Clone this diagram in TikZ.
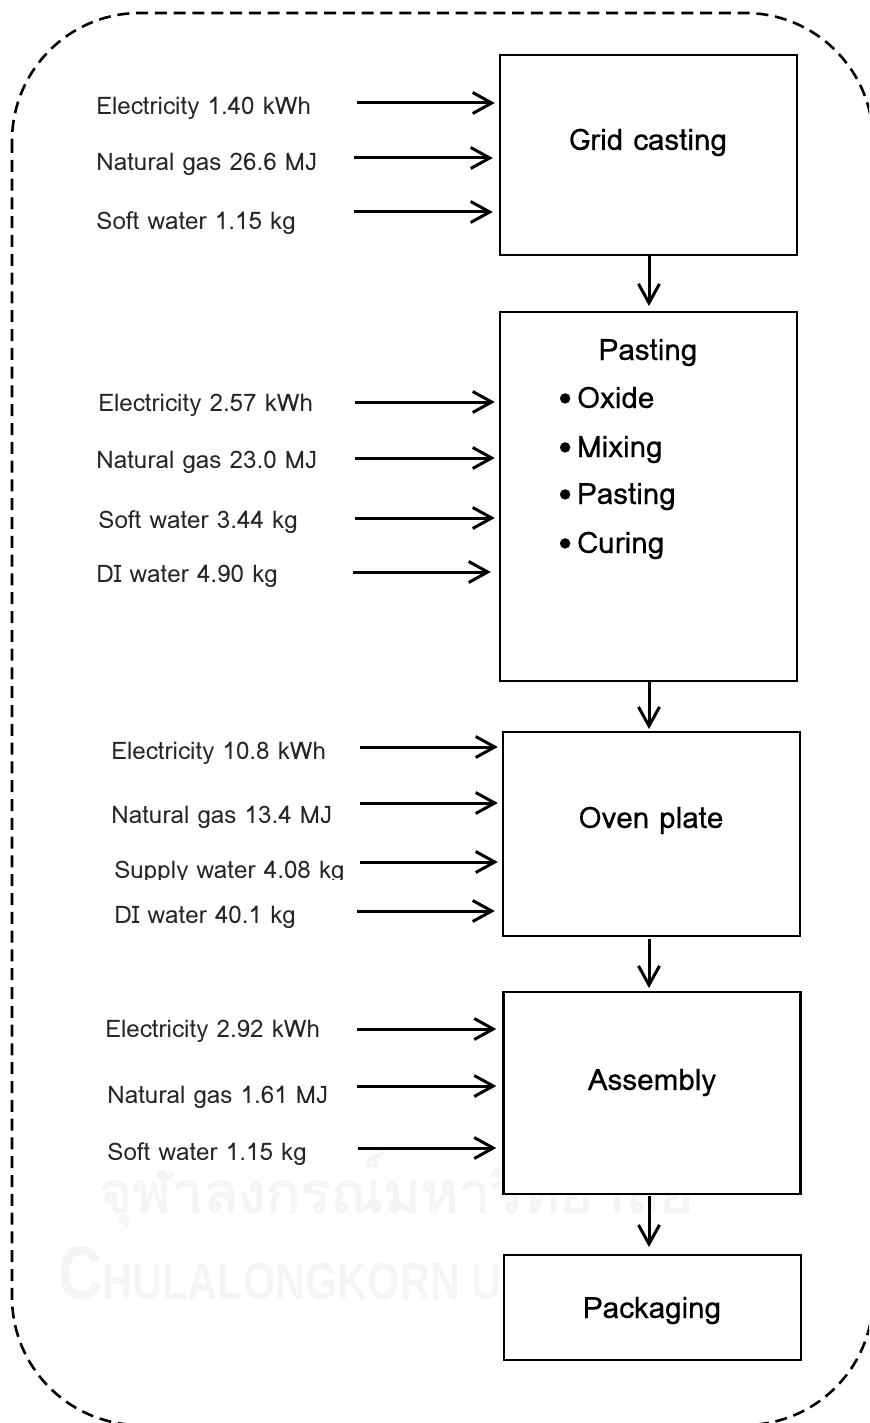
\documentclass[tikz,border=0pt]{standalone}
\usepackage{fontspec}
\setmainfont{Loma}
\newfontfamily\stagefont[FakeBold=0.35]{Loma}
\newfontfamily\thaimark[FakeBold=2.5]{Loma}
\newfontfamily\unimark{Liberation Sans}
\usetikzlibrary{arrows.meta}
\tikzset{
	stage/.style={draw, fill=white, line width=1.2pt, inner sep=0pt, minimum width=148.5pt},
	flow/.style={line width=1.5pt, -{Straight Barb[length=9.5pt, width=10.5pt]}},
	input/.style={anchor=base west, inner sep=0pt, text=black!85, font=\fontsize{12.1}{14}\selectfont},
	title/.style={anchor=base, inner sep=0pt, font=\stagefont\fontsize{14.8}{17}\selectfont},
	item/.style={anchor=base west, inner sep=0pt, font=\stagefont\fontsize{14.8}{17}\selectfont},
	faint/.style={inner sep=0pt, text=black!4, transform shape}
}
\begin{document}
\begin{tikzpicture}[x=0.5pt, y=-0.5pt]
	\path[use as bounding box, clip] (0,0) rectangle (869,1423);
	% watermark
	\node[faint, font=\thaimark\fontsize{28.4}{33}\selectfont] (thai) at (396,1190) {จุฬาลงกรณ์มหาวิทยาลัย};
	\node[faint, anchor=base west, xscale=0.8, font=\unimark\bfseries\fontsize{38}{40}\selectfont] (uni) at (58,1299) {C\fontsize{26}{28}\selectfont HULALONGKORN U};
	% boundary
	\draw[line width=1.3pt, dash pattern=on 6pt off 3.4pt, rounded corners=64pt] (12,13) rectangle (873,1425);
	% stages
	\node[stage, minimum height=100pt] (grid) at (648.5,155) {};
	\node[stage, minimum height=184.5pt] (paste) at (648.5,496.5) {};
	\node[stage, minimum height=102pt] (oven) at (651.5,834) {};
	\node[stage, minimum height=101pt] (assembly) at (652,1093) {};
	\node[stage, minimum height=52.5pt] (pack) at (652.5,1307.5) {};
	\node[title] (gridtext) at (648,150) {Grid casting};
	\node[title] (pastetext) at (648,360) {Pasting};
	\node[item] (oxide) at (558,408) {•\kern-2.5pt\ Oxide};
	\node[item] (mixing) at (558,457) {•\kern-2.5pt\ Mixing};
	\node[item] (pasting) at (558,504) {•\kern-2.5pt\ Pasting};
	\node[item] (curing) at (558,553) {•\kern-2.5pt\ Curing};
	\node[title] (oventext) at (651,828) {Oven plate};
	\node[title] (assemblytext) at (652,1090) {Assembly};
	\node[title] (packtext) at (652,1318) {Packaging};
	% stage to stage
	\draw[flow] (grid.south -| 649,0) -- (649,306) coordinate (c1);
	\draw[flow] (paste.south -| 649,0) -- (649,729) coordinate (c2);
	\draw[flow] (649,939) coordinate (c3) -- (649,988) coordinate (c4);
	\draw[flow] (649,1196) coordinate (c5) -- (649,1247) coordinate (c6);
	% grid casting inputs
	\node[input] (g1) at (96,115) {Electricity 1.40 kWh};
	\node[input] (g2) at (96,171) {Natural gas 26.6 MJ};
	\node[input] (g3) at (96,230) {Soft water 1.15 kg};
	\coordinate (gs1) at (357,103);
	\coordinate (gs2) at (354,158);
	\coordinate (gs3) at (354,212);
	\draw[flow, shorten >=2pt] (gs1) -- (gs1 -| grid.west);
	\draw[flow, shorten >=3pt] (gs2) -- (gs2 -| grid.west);
	\draw[flow, shorten >=3pt] (gs3) -- (gs3 -| grid.west);
	% pasting inputs
	\node[input] (p1) at (98,411) {Electricity 2.57 kWh};
	\node[input] (p2) at (96,468) {Natural gas 23.0 MJ};
	\node[input] (p3) at (98,528) {Soft water 3.44 kg};
	\node[input] (p4) at (96,582) {DI water 4.90 kg};
	\coordinate (ps1) at (355,402);
	\coordinate (ps2) at (355,458);
	\coordinate (ps3) at (355,518);
	\coordinate (ps4) at (353,572);
	\draw[flow, shorten >=2pt] (ps1) -- (ps1 -| paste.west);
	\draw[flow, shorten >=2pt] (ps2) -- (ps2 -| paste.west);
	\draw[flow, shorten >=2pt] (ps3) -- (ps3 -| paste.west);
	\draw[flow, shorten >=4pt] (ps4) -- (ps4 -| paste.west);
	% oven inputs
	\node[input] (o1) at (111,759) {Electricity 10.8 kWh};
	\node[input] (o2) at (111,823) {Natural gas 13.4 MJ};
	\node[input] (o3) at (114,878) {Supply water 4.08 kg};
	\fill[white] (112,880) rectangle (352,893); % tails are cut off here
	\node[input] (o4) at (114,923) {DI water 40.1 kg};
	\coordinate (os1) at (360,747);
	\coordinate (os2) at (360,803);
	\coordinate (os3) at (360,862);
	\coordinate (os4) at (357,911);
	\draw[flow, shorten >=2pt] (os1) -- (os1 -| oven.west);
	\draw[flow, shorten >=2pt] (os2) -- (os2 -| oven.west);
	\draw[flow, shorten >=2pt] (os3) -- (os3 -| oven.west);
	\draw[flow, shorten >=3.5pt] (os4) -- (os4 -| oven.west);
	% assembly inputs
	\node[input] (a1) at (105,1037) {Electricity 2.92 kWh};
	\node[input] (a2) at (107,1103) {Natural gas 1.61 MJ};
	\node[input] (a3) at (107,1160) {Soft water 1.15 kg};
	\coordinate (as1) at (357,1029);
	\coordinate (as2) at (357,1086);
	\coordinate (as3) at (358,1148);
	\draw[flow, shorten >=3pt] (as1) -- (as1 -| assembly.west);
	\draw[flow, shorten >=3pt] (as2) -- (as2 -| assembly.west);
	\draw[flow, shorten >=3pt] (as3) -- (as3 -| assembly.west);
\end{tikzpicture}
\end{document}
